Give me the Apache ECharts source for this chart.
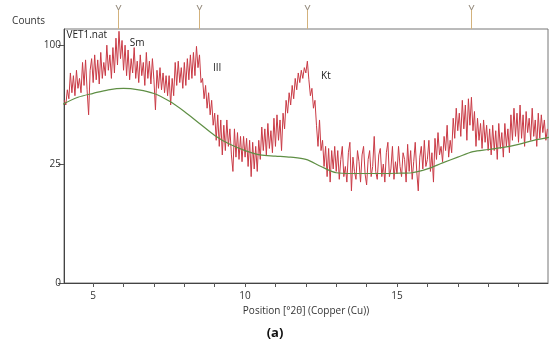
<!DOCTYPE html>
<html lang="en">
<head>
<meta charset="UTF-8">
<title>VET1 XRD</title>
<script src="https://cdn.jsdelivr.net/npm/echarts@6/dist/echarts.min.js"></script>
<style>
  html,body{margin:0;padding:0;background:#fff;}
  #main{width:550px;height:339px;}
</style>
</head>
<body>
<div id="main"></div>
<script type="text/javascript">
// scan grid (°2θ)
var scanStart = 4.05;
var scanStep = 0.05;

var counts = [
  59,56,66,60,78,64,76,62,80,67,74,64,86,69,88,66,50,80,89,71,      // 4.05 - 5.00
  92,73,88,70,94,74,86,76,100,80,92,74,98,78,106,84,112,89,104,80,  // 5.05 - 6.00
  100,76,96,73,89,78,98,74,87,71,92,76,86,69,94,74,87,70,89,73,     // 6.05 - 7.00
  53,80,67,82,66,78,64,76,62,76,56,74,62,86,69,87,71,82,67,86,      // 7.05 - 8.00
  69,89,73,92,74,94,76,99,82,92,71,74,60,69,54,64,50,59,44,51,      // 8.05 - 9.00
  36,50,33,47,29,44,31,47,33,42,29,22,42,28,40,27,38,26,38,28,      // 9.05 - 10.00
  37,24,36,20,35,23,33,22,36,27,43,31,42,29,45,32,41,30,48,33,      // 10.05 - 11.00
  50,36,47,31,51,42,59,51,64,56,69,60,74,66,78,71,80,74,82,78,      // 11.05 - 12.00
  87,73,62,67,54,59,44,33,47,31,36,24,33,20,32,18,31,23,33,22,      // 12.05 - 13.00
  31,19,27,33,20,24,18,30,35,15,28,22,19,31,26,18,29,33,21,17,      // 13.05 - 14.00
  27,31,20,24,38,22,19,29,32,20,25,18,30,35,20,23,33,19,26,21,      // 14.05 - 15.00
  33,24,20,30,27,18,34,22,31,19,26,35,22,15,28,33,23,36,24,27,      // 15.05 - 16.00
  36,22,30,18,37,27,40,29,33,26,38,31,44,28,36,30,48,37,54,41,      // 16.05 - 17.00
  51,38,59,42,56,36,60,44,61,41,52,33,48,36,45,32,47,35,44,31,      // 17.05 - 18.00
  42,29,44,31,41,27,45,32,40,28,45,33,42,30,50,36,54,38,51,35,      // 18.05 - 19.00
  56,37,50,33,52,40,48,36,54,38,47,33,51,37,50,40,47,36,42          // 19.05 - 19.95
];

// background curve, every 0.5°
var bgPos = [4,4.5,5,5.5,6,6.5,7,7.5,8,8.5,9,9.5,10,10.5,11,11.5,12,12.5,13,13.5,14,14.5,15,15.5,16,16.5,17,17.5,18,18.5,19,19.5,20];
var bgCounts = [56.5,61,63.6,66,67,66,63.5,58.5,52,45,38.5,34,31,29,28.5,28,27,24,21.5,21.2,21.2,21.2,21.3,21.5,23,25.5,28,30.5,31.5,32.5,34,36,37.5];

// reference peak markers above the plot
var peakPos = [5.82, 8.49, 12.04, 17.43];

// phase labels
var annoNames = ['Sm', 'III', 'Kt'];
var annoPos = [6.45, 9.08, 12.66];
var annoCounts = [101.7, 81.5, 75.5];

var yTickCounts = [0, 25, 100];
var xTickVals = [5,6,7,8,9,10,11,12,13,14,15,16,17,18,19];
var xLabelVals = [5, 10, 15];

var xMin = 4.04, xMax = 19.97;
var yMax = 10.68; // sqrt(counts) at the top of the frame

// square-root intensity scale
var rawLine = counts.map(function (c, i) {
  return [+(scanStart + i * scanStep).toFixed(2), Math.sqrt(c)];
});
var bgLine = bgPos.map(function (p, i) { return [p, Math.sqrt(bgCounts[i])]; });

var font = '"Open Sans", "DejaVu Sans", sans-serif';

var myChart = echarts.init(document.getElementById('main'));
var option = {
  animation: false,
  textStyle: {fontFamily: font},
  title: {
    text: '(a)', left: 'center', top: 322,
    textStyle: {fontSize: 13, fontWeight: 'bold', color: '#111', fontFamily: font}
  },
  grid: [
    {left: 64, right: 2, top: 29, bottom: 56, show: true, borderColor: '#777', borderWidth: 1},
    {left: 64, right: 2, top: 5, height: 24}
  ],
  xAxis: [{
    type: 'value', min: xMin, max: xMax,
    name: 'Position [°2θ] (Copper (Cu))', nameLocation: 'middle', nameGap: 23,
    nameTextStyle: {fontSize: 10, color: '#333'},
    axisLine: {lineStyle: {color: '#444'}},
    axisTick: {length: 4, customValues: xTickVals, lineStyle: {color: '#555'}},
    axisLabel: {customValues: xLabelVals, fontSize: 10, color: '#333', margin: 8},
    splitLine: {show: false}
  }, {
    gridIndex: 1, type: 'value', min: xMin, max: xMax, show: false
  }],
  yAxis: [{
    type: 'value', min: 0, max: yMax,
    name: 'Counts', nameLocation: 'end', nameGap: 3,
    nameTextStyle: {fontSize: 10, color: '#333', align: 'right', padding: [0, 19, 0, 0]},
    axisLine: {show: true, lineStyle: {color: '#444'}},
    axisTick: {show: true, length: 6, customValues: yTickCounts.map(Math.sqrt), lineStyle: {color: '#555'}},
    axisLabel: {
      customValues: yTickCounts.map(Math.sqrt), fontSize: 10, color: '#333', margin: 3,
      formatter: function (v) { return Math.round(v * v); }
    },
    splitLine: {show: false}
  }, {
    gridIndex: 1, type: 'value', min: 0, max: 1, show: false
  }],
  series: [{
    type: 'line', data: rawLine, symbol: 'none',
    lineStyle: {color: '#c93a45', width: 1},
    z: 3,
    markPoint: {
      symbol: 'circle', symbolSize: 0,
      label: {show: true, position: 'inside', color: '#222', fontSize: 10, fontFamily: font,
        formatter: function (p) { return p.name; }},
      data: annoNames.map(function (n, i) {
        return {name: n, coord: [annoPos[i], Math.sqrt(annoCounts[i])]};
      }).concat([{name: 'VET1.nat', coord: [4.12, Math.sqrt(108.5)],
        label: {align: 'left'}}])
    }
  }, {
    type: 'line', data: bgLine, symbol: 'none', smooth: 0.3,
    lineStyle: {color: '#5f8f45', width: 1.2},
    z: 4
  }, {
    type: 'custom', xAxisIndex: 1, yAxisIndex: 1,
    data: peakPos.map(function (p) { return [p, 0]; }),
    renderItem: function (params, api) {
      var base = api.coord([api.value(0), 0]);
      var top = api.coord([api.value(0), 1]);
      var x = Math.round(base[0]) + 0.5;
      return {
        type: 'group',
        children: [{
          type: 'line',
          shape: {x1: x, y1: base[1], x2: x, y2: top[1] + 5},
          style: {stroke: '#d3b27c', lineWidth: 1}
        }, {
          type: 'polyline',
          shape: {points: [[x - 2.5, top[1]], [x, top[1] + 5], [x + 2.5, top[1]]]},
          style: {stroke: '#8d8273', lineWidth: 1, fill: null}
        }]
      };
    }
  }]
};
myChart.setOption(option);
</script>
</body>
</html>
